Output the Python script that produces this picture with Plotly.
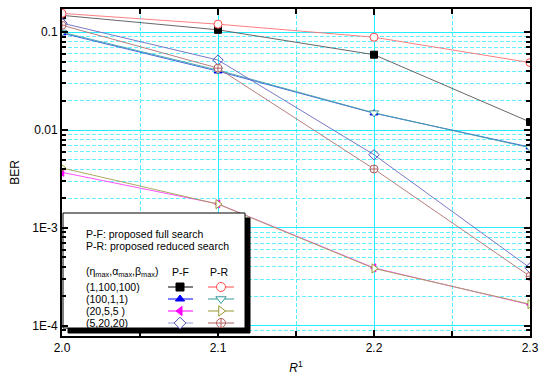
import plotly.graph_objects as go

R = [2.0, 2.1, 2.2, 2.3]

# (eta,alpha,beta) settings; P-F = full search, P-R = reduced search
pf_1_100_100 = [0.149, 0.106, 0.059, 0.0121]
pr_1_100_100 = [0.156, 0.121, 0.089, 0.049]
pf_100_1_1 = [0.098, 0.040, 0.0149, 0.0067]
pr_100_1_1 = [0.100, 0.041, 0.0150, 0.0066]
pf_20_5_5 = [0.0037, 0.00176, 0.00039, 0.000164]
pr_20_5_5 = [0.0041, 0.00175, 0.000385, 0.000166]
pf_5_20_20 = [0.124, 0.052, 0.0056, 0.00039]
pr_5_20_20 = [0.118, 0.043, 0.0040, 0.00032]

row_labels = ["(1,100,100)", "(100,1,1)", "(20,5,5 )", "(5,20,20)"]

styles = [
    # (pf data, pf marker, pf color, pf line, pr data, pr marker, pr color, pr line)
    (pf_1_100_100, "square", "#000000", "#555555", pr_1_100_100, "circle", "#ff4a4a", "#ff7070"),
    (pf_100_1_1, "triangle-up", "#0000ff", "#3355dd", pr_100_1_1, "triangle-down", "#339999", "#3f9fa8"),
    (pf_20_5_5, "triangle-left", "#ff00ff", "#ff40ff", pr_20_5_5, "triangle-right", "#999933", "#a0a050"),
    (pf_5_20_20, "diamond", "#5555bb", "#6a6ac0", pr_5_20_20, "circle-cross", "#b06060", "#b07070"),
]

fig = go.Figure()

for pf, pfs, pfc, pfl, pr, prs, prc, prl in styles:
    open_pf = pfs == "diamond"
    fig.add_trace(go.Scatter(x=R, y=pf, mode="lines+markers",
                             line=dict(color=pfl, width=0.9),
                             marker=dict(symbol=pfs, size=8 if open_pf else 7,
                                         color="rgba(255,255,255,0)" if open_pf else pfc,
                                         line=dict(color=pfc, width=1)),
                             showlegend=False))
    fig.add_trace(go.Scatter(x=R, y=pr, mode="lines+markers",
                             line=dict(color=prl, width=0.9),
                             marker=dict(symbol=prs, size=8, color="white",
                                         line=dict(color=prc, width=1)),
                             showlegend=False))

# ---- legend drawn in an overlay subplot measured in page pixels ----
def yv(p):
    return 383 - p

box_x = [63, 245, 245, 63, 63]
box_y = [yv(213), yv(213), yv(328), yv(328), yv(213)]
sh_x = [68, 250, 250, 68, 68]
sh_y = [yv(218), yv(218), yv(333), yv(333), yv(218)]
fig.add_trace(go.Scatter(x=sh_x, y=sh_y, xaxis="x2", yaxis="y2", mode="lines",
                         fill="toself", fillcolor="black", line=dict(color="black", width=1),
                         showlegend=False, hoverinfo="skip"))
fig.add_trace(go.Scatter(x=box_x, y=box_y, xaxis="x2", yaxis="y2", mode="lines",
                         fill="toself", fillcolor="white", line=dict(color="black", width=1),
                         showlegend=False, hoverinfo="skip"))

row_y = [287, 299, 311, 323]
for (pf, pfs, pfc, pfl, pr, prs, prc, prl), ry in zip(styles, row_y):
    open_pf = pfs == "diamond"
    fig.add_trace(go.Scatter(x=[168, 180, 193], y=[yv(ry)] * 3, xaxis="x2", yaxis="y2",
                             mode="lines", line=dict(color="#9999dd" if open_pf else pfc, width=1),
                             showlegend=False, hoverinfo="skip"))
    fig.add_trace(go.Scatter(x=[180], y=[yv(ry)], xaxis="x2", yaxis="y2", mode="markers",
                             marker=dict(symbol=pfs, size=9 if open_pf else 8,
                                         color="white" if open_pf else pfc,
                                         line=dict(color=pfc, width=1)),
                             showlegend=False, hoverinfo="skip"))
    fig.add_trace(go.Scatter(x=[208, 221, 234], y=[yv(ry)] * 3, xaxis="x2", yaxis="y2",
                             mode="lines", line=dict(color=prc, width=1),
                             showlegend=False, hoverinfo="skip"))
    fig.add_trace(go.Scatter(x=[221], y=[yv(ry)], xaxis="x2", yaxis="y2", mode="markers",
                             marker=dict(symbol=prs, size=9, color="white",
                                         line=dict(color=prc, width=1)),
                             showlegend=False, hoverinfo="skip"))

FONT = "Liberation Sans, Arial, sans-serif"
ann = [
    ("P-F: proposed full search", 84, 234, "left"),
    ("P-R: proposed reduced search", 84, 246, "left"),
    ("(η<sub>max</sub>,α<sub>max</sub>,β<sub>max</sub>)", 84, 272, "left"),
    ("P-F", 180, 272, "center"),
    ("P-R", 219, 272, "center"),
]
for lbl, ry in zip(row_labels, row_y):
    ann.append((lbl, 84, ry, "left"))
for text, x, y, al in ann:
    fig.add_annotation(x=x, y=yv(y), xref="x2", yref="y2", text=text, showarrow=False,
                       xanchor=al, yanchor="middle", font=dict(family=FONT, size=10.5, color="black"))

minor_y = []
for e in [1e-5, 1e-4, 1e-3, 1e-2, 1e-1]:
    for k in range(2, 10):
        minor_y.append(k * e)

fig.update_layout(
    width=539, height=383,
    margin=dict(l=62, r=9, t=9, b=47, autoexpand=False),
    paper_bgcolor="white", plot_bgcolor="white",
    font=dict(family=FONT, size=12, color="black"),
    xaxis=dict(range=[2.0, 2.3], tickvals=[2.0, 2.1, 2.2, 2.3], tickformat=".1f",
               ticklabeloverflow="allow", automargin=False,
               showgrid=True, gridcolor="#22eeff", gridwidth=1,
               showline=True, linecolor="black", linewidth=2, mirror="ticks",
               ticks="inside", ticklen=6, tickwidth=1.5, tickcolor="black",
               minor=dict(tickvals=[2.05, 2.15, 2.25], showgrid=True, gridcolor="#55eeff",
                          griddash="4px,2px", gridwidth=1, ticks="inside", ticklen=5, tickcolor="black"),
               title=dict(text="<i>R</i><sup>1</sup>", standoff=9, font=dict(size=12)),
               zeroline=False),
    yaxis=dict(type="log", range=[-4.105, -0.762], automargin=False,
               tickvals=[1e-4, 1e-3, 1e-2, 1e-1], ticktext=["1E-4", "1E-3", "0.01", "0.1"],
               showgrid=True, gridcolor="#22eeff", gridwidth=1,
               showline=True, linecolor="black", linewidth=2, mirror="ticks",
               ticks="inside", ticklen=6, tickwidth=1.5, tickcolor="black",
               minor=dict(tickvals=minor_y, showgrid=True, gridcolor="#66f0ff",
                          griddash="4px,2px", gridwidth=1, ticks="inside", ticklen=4, tickcolor="black"),
               title=dict(text="BER", standoff=10, font=dict(size=12)),
               zeroline=False),
    xaxis2=dict(overlaying="x", range=[62, 530], visible=False, fixedrange=True),
    yaxis2=dict(overlaying="y", range=[yv(336), yv(9)], visible=False, fixedrange=True),
    showlegend=False,
)

fig.write_html("out.html", config={"displayModeBar": False},
               post_script="document.body.style.margin='0';document.body.style.overflow='hidden';")
